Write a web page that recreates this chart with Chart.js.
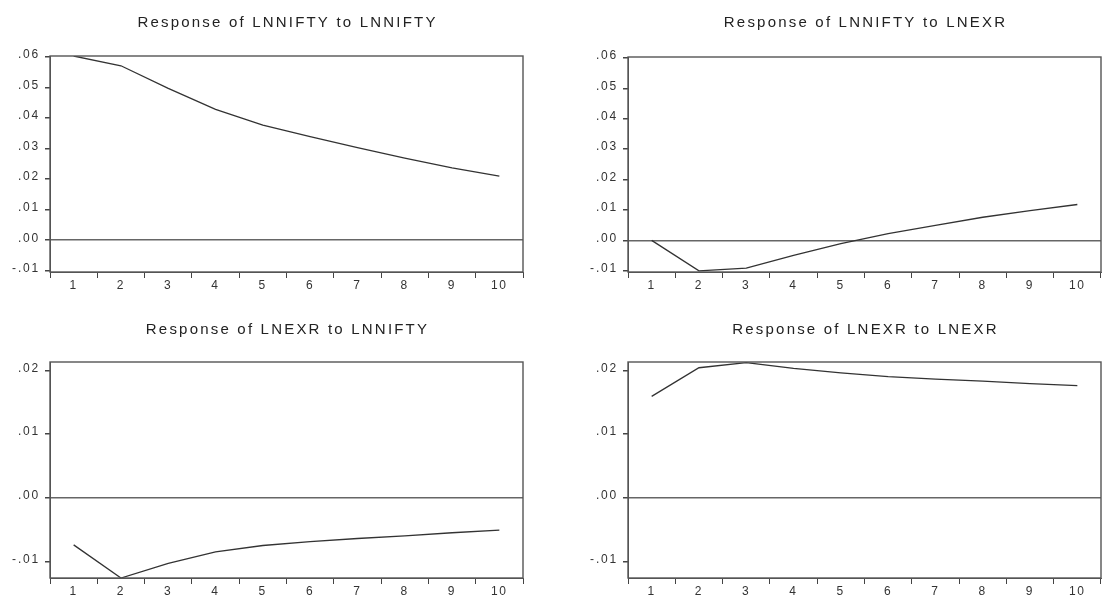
<!DOCTYPE html>
<html>
<head>
<meta charset="utf-8">
<script src="https://cdn.jsdelivr.net/npm/chart.js@4/dist/chart.umd.min.js"></script>
<style>
  body { margin: 0; background: #fff; }
  #wrap { position: relative; width: 1102px; height: 598px; }
  .panel { position: absolute; width: 551px; height: 299px; }
</style>
</head>
<body>
<div id="wrap">
  <div class="panel" style="left:0;top:0"><canvas id="c1"></canvas></div>
  <div class="panel" style="left:551px;top:0"><canvas id="c2"></canvas></div>
  <div class="panel" style="left:0;top:299px"><canvas id="c3"></canvas></div>
  <div class="panel" style="left:551px;top:299px"><canvas id="c4"></canvas></div>
</div>
<script>
const periods = ['1', '2', '3', '4', '5', '6', '7', '8', '9', '10'];

// impulse responses
const niftyToNifty = [0.0603, 0.0571, 0.0497, 0.0428, 0.0377, 0.0339, 0.0303, 0.0269, 0.0237, 0.0210];
const niftyToExr   = [0.0000, -0.0100, -0.0091, -0.0049, -0.0011, 0.0022, 0.0049, 0.0076, 0.0098, 0.0118];
const exrToNifty   = [-0.0074, -0.0126, -0.0103, -0.0085, -0.0075, -0.0069, -0.0064, -0.0060, -0.0055, -0.0051];
const exrToExr     = [0.0159, 0.0204, 0.0212, 0.0203, 0.0196, 0.0190, 0.0186, 0.0183, 0.0179, 0.0176];

const topTicks = [-0.01, 0, 0.01, 0.02, 0.03, 0.04, 0.05, 0.06];
const bottomTicks = [-0.01, 0, 0.01, 0.02];

const FONT = '"Liberation Sans", Arial, sans-serif';

// frame round the plot area, the panel title, and the wide letter spacing of the source
const framePlugin = {
    id: 'frame',
    beforeDraw(chart) {
        chart.ctx.letterSpacing = '1.8px';
    },
    afterDraw(chart, args, opts) {
        const a = chart.chartArea;
        const ctx = chart.ctx;
        ctx.save();
        ctx.strokeStyle = '#555';
        ctx.lineWidth = 1.4;
        ctx.strokeRect(Math.round(a.left), Math.round(a.top),
            Math.round(a.right - a.left), Math.round(a.bottom - a.top));

        ctx.letterSpacing = '2.2px';
        ctx.fillStyle = '#222';
        ctx.font = '15px ' + FONT;
        ctx.textAlign = 'center';
        ctx.textBaseline = 'middle';
        ctx.fillText(opts.text, (a.left + a.right) / 2 + 1, opts.y);
        ctx.restore();
    }
};

function makePanel(id, title, values, ticks, yMin, yMax, box) {
    const ctx = document.getElementById(id);
    return new Chart(ctx, {
        type: 'line',
        data: {
            labels: periods,
            datasets: [{
                data: values,
                borderColor: '#333',
                borderWidth: 1.3,
                pointRadius: 0,
                tension: 0,
                fill: false
            }]
        },
        options: {
            responsive: true,
            maintainAspectRatio: false,
            animation: false,
            layout: { padding: { left: 0, right: box.right, top: box.top, bottom: 0 } },
            plugins: {
                legend: { display: false },
                tooltip: { enabled: false },
                title: { display: false },
                frame: { text: title, y: box.titleY }
            },
            scales: {
                x: {
                    type: 'category',
                    offset: true,
                    afterFit: s => { s.height = box.xHeight; },
                    grid: {
                        display: true,
                        offset: true,
                        drawOnChartArea: false,
                        tickLength: 6,
                        tickColor: '#444'
                    },
                    border: { display: true, color: '#555', width: 1 },
                    ticks: {
                        color: '#333',
                        padding: 0,
                        maxRotation: 0,
                        autoSkip: false,
                        font: { family: FONT, size: 12 }
                    }
                },
                y: {
                    min: yMin,
                    max: yMax,
                    afterFit: s => { s.width = box.left; },
                    afterBuildTicks: s => { s.ticks = ticks.map(v => ({ value: v })); },
                    grid: {
                        drawOnChartArea: true,
                        color: c => (c.tick && c.tick.value === 0) ? '#666' : 'rgba(0,0,0,0)',
                        lineWidth: 1.5,
                        tickLength: 5,
                        tickColor: '#444'
                    },
                    border: { display: true, color: '#555', width: 1 },
                    ticks: {
                        color: '#333',
                        padding: 5,
                        labelOffset: -2,
                        font: { family: FONT, size: 12 },
                        callback: v => v.toFixed(2).replace('0.', '.')
                    }
                }
            }
        },
        plugins: [framePlugin]
    });
}

makePanel('c1', 'Response of LNNIFTY to LNNIFTY', niftyToNifty, topTicks, -0.0104, 0.0603,
    { left: 50, right: 28, top: 56, xHeight: 27, titleY: 23 });
makePanel('c2', 'Response of LNNIFTY to LNEXR', niftyToExr, topTicks, -0.0104, 0.0603,
    { left: 77, right: 1, top: 57, xHeight: 27, titleY: 23 });
makePanel('c3', 'Response of LNEXR to LNNIFTY', exrToNifty, bottomTicks, -0.0126, 0.0213,
    { left: 50, right: 28, top: 63, xHeight: 20, titleY: 31 });
makePanel('c4', 'Response of LNEXR to LNEXR', exrToExr, bottomTicks, -0.0126, 0.0213,
    { left: 77, right: 1, top: 63, xHeight: 20, titleY: 31 });
</script>
</body>
</html>
